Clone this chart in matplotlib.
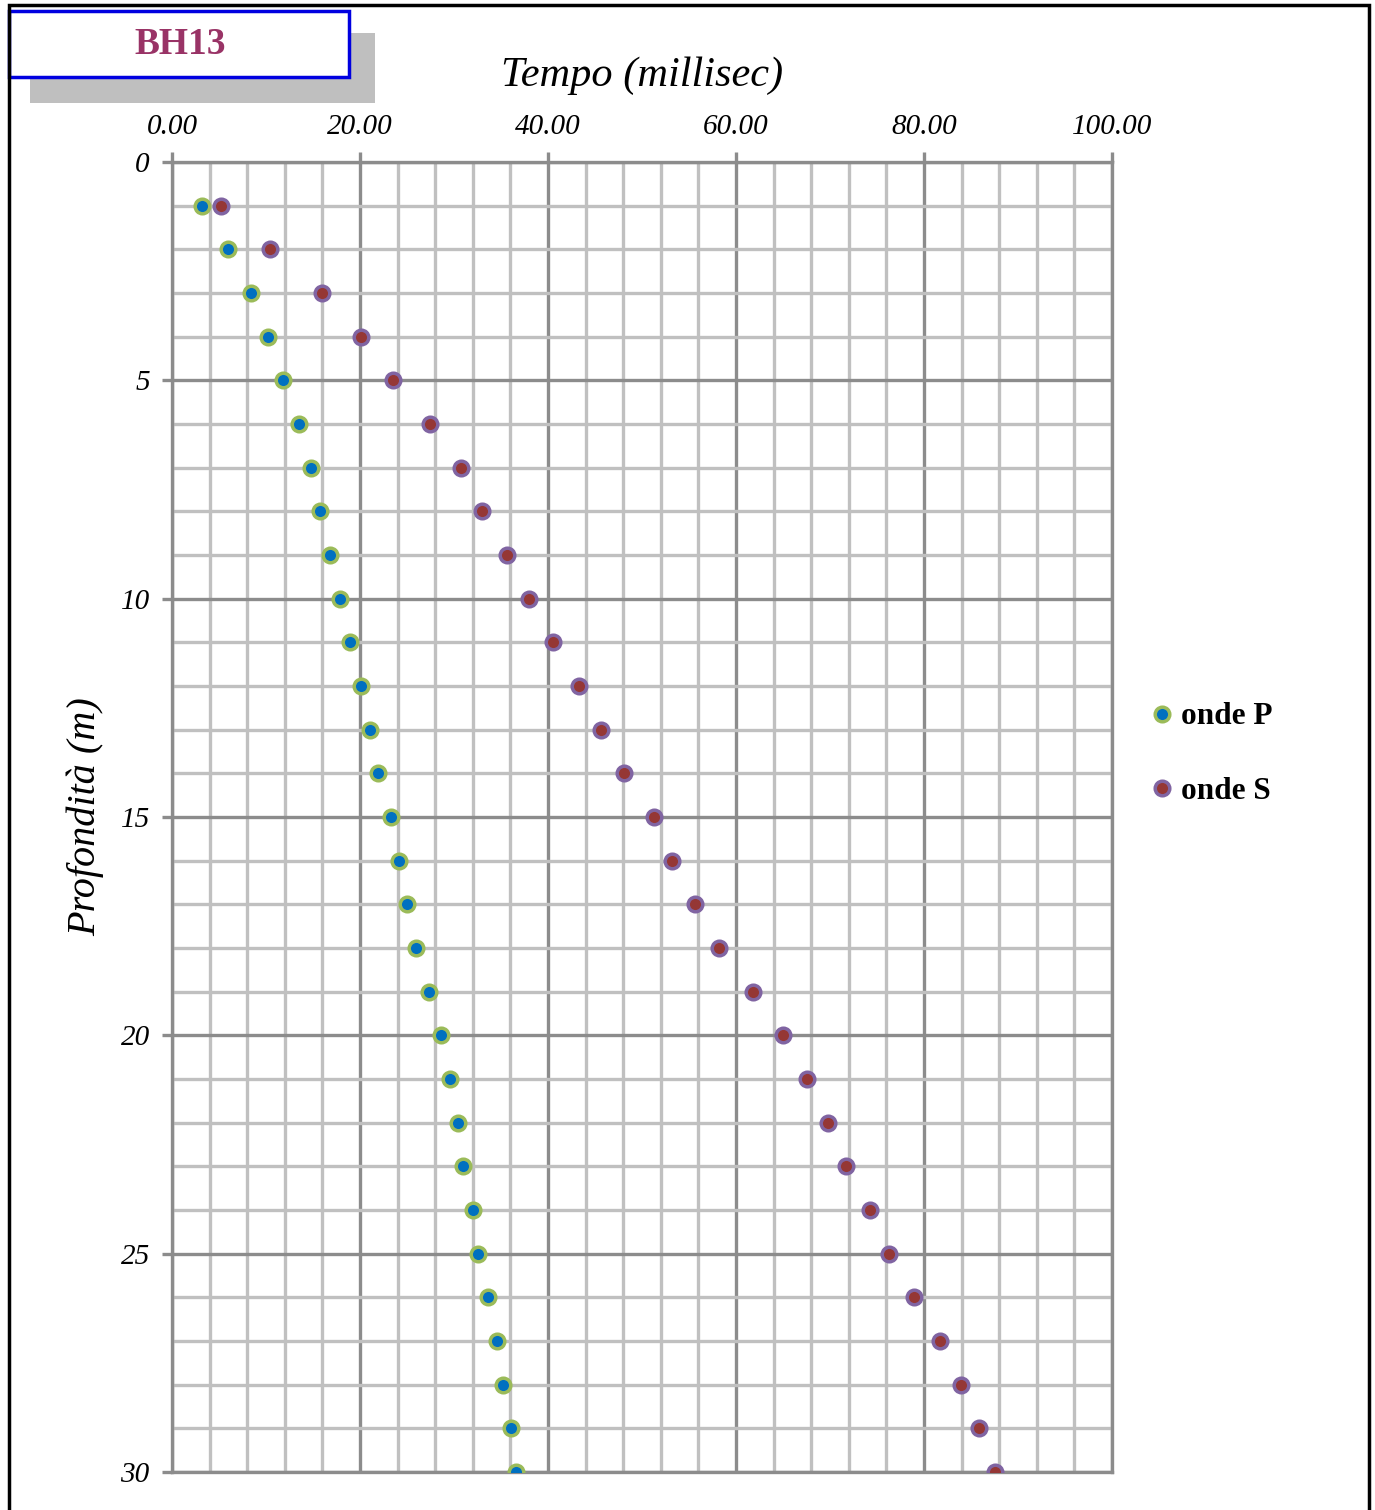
import numpy as np
import matplotlib
matplotlib.use("Agg")
import matplotlib.pyplot as plt
from matplotlib.patches import Rectangle
from matplotlib.ticker import MultipleLocator, FormatStrFormatter

# depth (m) and arrival times (ms)
depth = np.arange(1, 31)
onde_p = [3.2, 6.0, 8.4, 10.2, 11.8, 13.5, 14.8, 15.7, 16.8, 17.9,
          18.9, 20.1, 21.1, 21.9, 23.3, 24.1, 25.0, 26.0, 27.3, 28.6,
          29.6, 30.4, 31.0, 32.0, 32.6, 33.6, 34.6, 35.2, 36.1, 36.6]
onde_s = [5.2, 10.4, 16.0, 20.1, 23.5, 27.4, 30.7, 33.0, 35.6, 38.0,
          40.5, 43.3, 45.6, 48.1, 51.3, 53.2, 55.6, 58.2, 61.8, 65.0,
          67.6, 69.8, 71.7, 74.3, 76.3, 78.9, 81.7, 83.9, 85.9, 87.6]

title = "BH13"
xlabel = "Tempo (millisec)"
ylabel = "Profondità (m)"

serif = ["Liberation Serif", "DejaVu Serif"]
plt.rcParams["font.family"] = serif

fig = plt.figure(figsize=(13.75, 15.10), dpi=100)
ax = fig.add_axes([0.1251, 0.0252, 0.6836, 0.8675])

major_c = "#8c8c8c"
minor_c = "#c0c0c0"

ax.set_xlim(0, 100)
ax.set_ylim(30, 0)
ax.xaxis.tick_top()
ax.xaxis.set_major_locator(MultipleLocator(20))
ax.xaxis.set_minor_locator(MultipleLocator(4))
ax.yaxis.set_major_locator(MultipleLocator(5))
ax.yaxis.set_minor_locator(MultipleLocator(1))
ax.xaxis.set_major_formatter(FormatStrFormatter("%.2f"))

ax.grid(which="minor", color=minor_c, lw=2.4, zorder=0)
ax.grid(which="major", color=major_c, lw=2.4, zorder=1)
ax.set_axisbelow(True)
for sp in ax.spines.values():
    sp.set_color(major_c)
    sp.set_linewidth(2.4)
ax.tick_params(which="major", length=7, width=2.4, color=major_c,
               labelsize=21, pad=9)
ax.tick_params(which="minor", length=0)
for lab in ax.get_xticklabels() + ax.get_yticklabels():
    lab.set_fontstyle("italic")

ax.plot(onde_p, depth, ls="none", marker="o", ms=10.5, mew=2.5,
        mfc="#0070C0", mec="#9BBB59", label="onde P", zorder=3)
ax.plot(onde_s, depth, ls="none", marker="o", ms=10.5, mew=2.5,
        mfc="#953735", mec="#8064A2", label="onde S", zorder=3)

ax.set_xlabel(xlabel, fontsize=30.5, fontstyle="italic", labelpad=20)
ax.xaxis.set_label_position("top")
ax.set_ylabel(ylabel, fontsize=29, fontstyle="italic", labelpad=12)

leg = ax.legend(loc="center left", bbox_to_anchor=(1.005, 0.548), frameon=False,
                prop={"size": 22.5, "weight": "bold"}, handletextpad=0.05,
                handlelength=1.1, labelspacing=1.45)

# title box with shadow
fig.patches.append(Rectangle((30 / 1375, 1 - 103 / 1510), 345 / 1375, 70 / 1510,
                             transform=fig.transFigure, fc="#bfbfbf", ec="none"))
fig.patches.append(Rectangle((9 / 1375, 1 - 77 / 1510), 340 / 1375, 66 / 1510,
                             transform=fig.transFigure, fc="white", ec="#0000e0", lw=2.5))
fig.text(180 / 1375, 1 - 44 / 1510, title, ha="center", va="center",
         fontsize=27, fontweight="bold", color="#993366")

# outer frame
fig.patches.append(Rectangle((9 / 1375, -0.01), 1360 / 1375, 1 - 5 / 1510 + 0.01,
                             transform=fig.transFigure, fc="none", ec="black", lw=2.5))

fig.savefig("out.png", dpi=100)
